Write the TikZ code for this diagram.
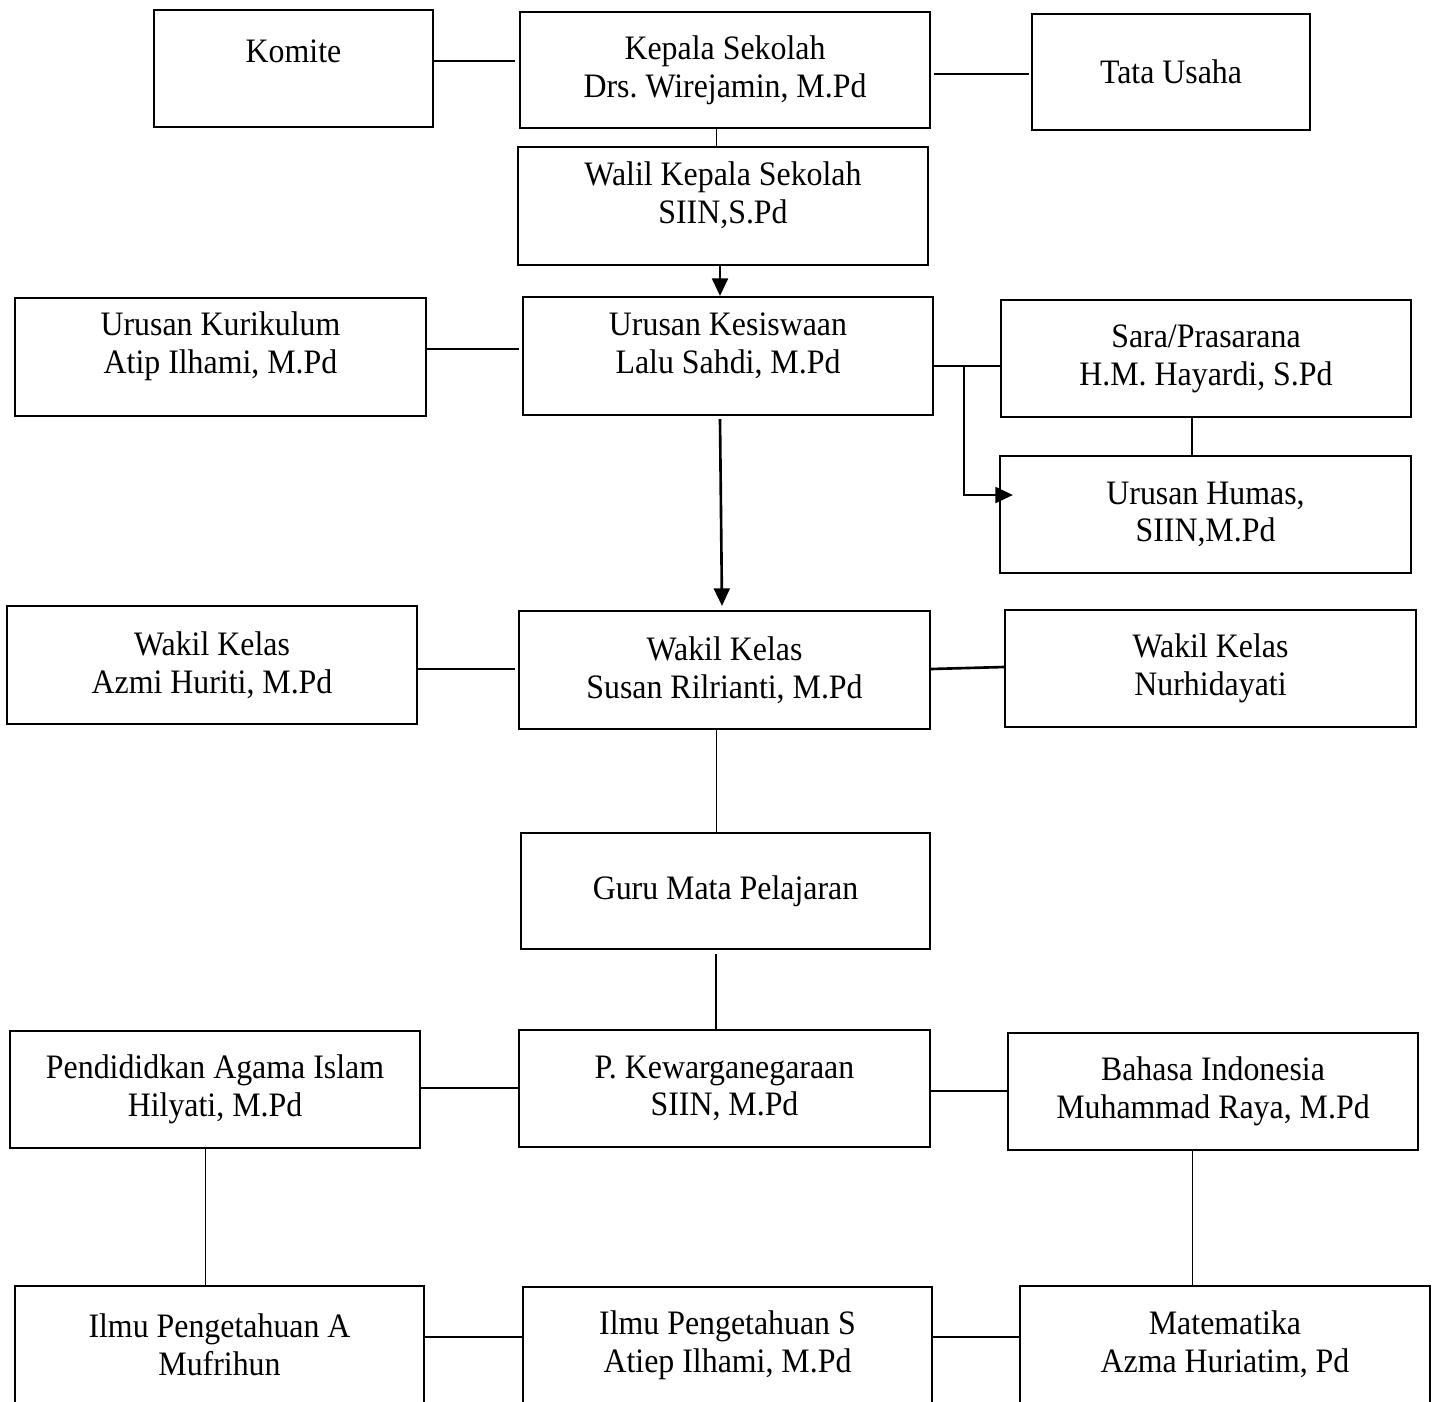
\documentclass[tikz,border=0pt]{standalone}
\usepackage{fontspec}
\setmainfont{Liberation Serif}[FakeStretch=0.93]
\usetikzlibrary{arrows.meta}
\frenchspacing
\tikzset{
  txt/.style={inner sep=0pt, align=center, font=\fontsize{19.5}{21.5}\selectfont},
  box/.style={draw, line width=1.2pt, txt, minimum width=8.2cm, minimum height=2.34cm},
  smallbox/.style={box, minimum width=5.58cm},
  thicklink/.style={line width=1.5pt},
  thinlink/.style={line width=0.5pt},
  arr/.style={-{Triangle[length=10pt,width=9pt]}}
}
\begin{document}
\begin{tikzpicture}
\useasboundingbox (0,0) rectangle (28.8,-28.02);
% row 1
\node[smallbox, label={[txt,name=komitet,yshift=0.35cm]center:Komite}] (komite) at (5.87,-1.37) {};
\node[box, minimum height=2.32cm] (kepala) at (14.5,-1.4) {Kepala Sekolah\\Drs. Wirejamin, M.Pd};
\node[smallbox, minimum width=5.56cm, minimum height=2.32cm] (tata) at (23.42,-1.44) {Tata Usaha};
% row 2
\node[box, minimum height=2.36cm, label={[txt,name=walilt,yshift=0.21cm]center:{Walil Kepala Sekolah\\SIIN,S.Pd}}] (walil) at (14.46,-4.12) {};
% row 3
\node[box, minimum width=8.22cm, minimum height=2.36cm, label={[txt,name=kurt,yshift=0.21cm]center:{Urusan Kurikulum\\Atip Ilhami, M.Pd}}] (kurikulum) at (4.41,-7.14) {};
\node[box, minimum height=2.36cm, label={[txt,name=kest,yshift=0.21cm]center:{Urusan Kesiswaan\\Lalu Sahdi, M.Pd}}] (kesiswaan) at (14.56,-7.12) {};
\node[box] (sara) at (24.12,-7.17) {Sara/Prasarana\\H.M. Hayardi, S.Pd};
\node[box, minimum width=8.22cm] (humas) at (24.11,-10.29) {Urusan Humas,\\SIIN,M.Pd};
% row 4
\node[box, minimum height=2.36cm] (wl) at (4.24,-13.3) {Wakil Kelas\\Azmi Huriti, M.Pd};
\node[box, minimum width=8.22cm, minimum height=2.36cm] (wm) at (14.49,-13.4) {Wakil Kelas\\Susan Rilrianti, M.Pd};
\node[box, minimum width=8.22cm] (wr) at (24.21,-13.37) {Wakil Kelas\\Nurhidayati};
% row 5
\node[box, minimum width=8.18cm, minimum height=2.32cm] (guru) at (14.51,-17.82) {Guru Mata Pelajaran};
% row 6
\node[box] (pai) at (4.3,-21.79) {Pendididkan Agama Islam\\Hilyati, M.Pd};
\node[box, minimum width=8.22cm] (pkn) at (14.49,-21.77) {P. Kewarganegaraan\\SIIN, M.Pd};
\node[box] (bi) at (24.26,-21.83) {Bahasa Indonesia\\Muhammad Raya, M.Pd};
% row 7
\node[box, minimum width=8.18cm] (ipa) at (4.39,-26.89) {Ilmu Pengetahuan A\\Mufrihun};
\node[box, minimum width=8.18cm] (ips) at (14.55,-26.91) {Ilmu Pengetahuan S\\Atiep Ilhami, M.Pd};
\node[box] (mat) at (24.5,-26.89) {Matematika\\Azma Huriatim, Pd};

% connectors
\draw[thicklink] (komite.east |- 0,-1.22) -- ([xshift=-0.08cm]kepala.west |- 0,-1.22);
\draw[thicklink] ([xshift=0.06cm]kepala.east |- 0,-1.48) -- ([xshift=-0.04cm]tata.west |- 0,-1.48);
\draw[thinlink] (kepala.south -| 14.32,0) -- (walil.north -| 14.32,0);
\draw[thicklink, arr] (walil.south -| 14.4,0) -- (kesiswaan.north -| 14.4,0);
\draw[thicklink] (kurikulum.east |- 0,-6.98) -- ([xshift=-0.06cm]kesiswaan.west |- 0,-6.98);
\draw[thicklink] (kesiswaan.east |- 0,-7.32) -- (sara.west |- 0,-7.32);
\coordinate (br) at (19.28,-7.32);
\draw[thicklink, arr] (br) |- ([xshift=0.28cm]humas.west |- 0,-9.9);
\draw[thicklink] (sara.south -| 23.84,0) -- (humas.north -| 23.84,0);
\draw[thicklink, arr] ([yshift=-0.06cm]kesiswaan.south -| 14.4,0) -- ([yshift=0.08cm]wm.north -| 14.44,0);
\draw[thicklink] (wl.east |- 0,-13.38) -- ([xshift=-0.06cm]wm.west |- 0,-13.38);
\draw[thicklink] (wm.east |- 0,-13.38) -- (wr.west |- 0,-13.34);
\draw[thinlink] (wm.south -| 14.32,0) -- (guru.north -| 14.32,0);
\draw[thicklink] ([yshift=-0.08cm]guru.south -| 14.32,0) -- (pkn.north -| 14.32,0);
\draw[thicklink] (pai.east |- 0,-21.76) -- (pkn.west |- 0,-21.76);
\draw[thicklink] (pkn.east |- 0,-21.82) -- (bi.west |- 0,-21.82);
\draw[thinlink] (pai.south -| 4.1,0) -- (ipa.north -| 4.1,0);
\draw[thinlink] (bi.south -| 23.84,0) -- (mat.north -| 23.84,0);
\draw[thicklink] (ipa.east |- 0,-26.74) -- (ips.west |- 0,-26.74);
\draw[thicklink] (ips.east |- 0,-26.74) -- (mat.west |- 0,-26.74);
\end{tikzpicture}
\end{document}
